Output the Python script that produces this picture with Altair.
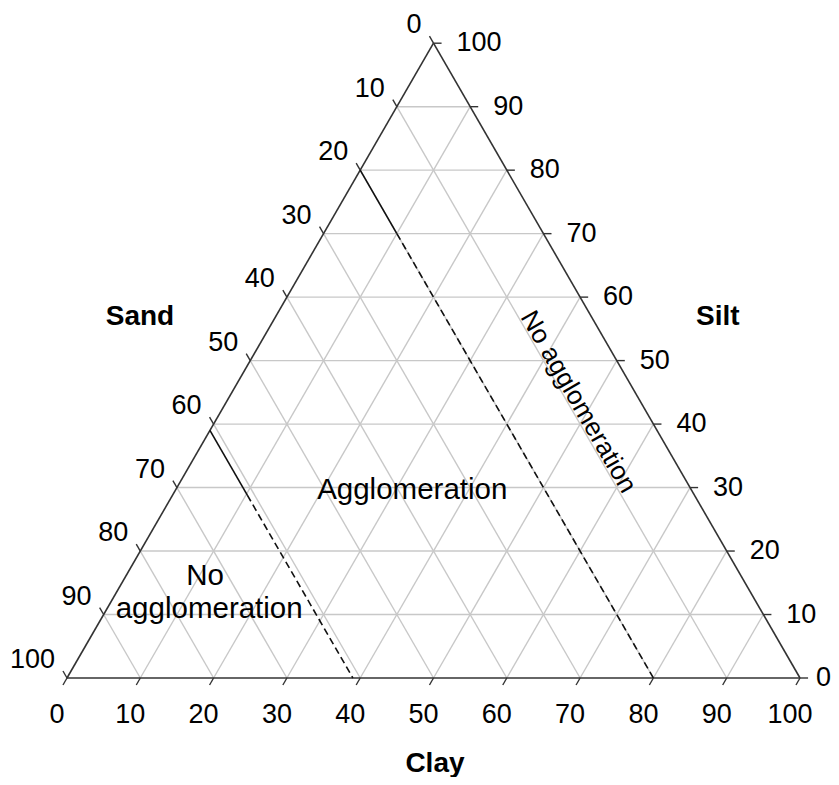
import math
import pandas as pd
import altair as alt

# ---- data (ternary: clay %, silt %, sand % = 100 - clay - silt) ----
tick_values = [0, 10, 20, 30, 40, 50, 60, 70, 80, 90, 100]
grid_values = [10, 20, 30, 40, 50, 60, 70, 80, 90]

# boundary lines: constant sand %, solid part ends at silt %
boundary_sand = [20, 61]
boundary_solid_end_silt = [70, 28.8]

axis_titles = ["Sand", "Silt", "Clay"]
axis_title_clay = [9.96 - 49.25 / math.sqrt(3), 88.8 - 49.25 / math.sqrt(3), 50.2 + 11.8 / math.sqrt(3)]
axis_title_silt = [49.25 * 2 / math.sqrt(3), 49.25 * 2 / math.sqrt(3), -11.8 * 2 / math.sqrt(3)]

region_texts = ["Agglomeration", "No", "agglomeration"]
region_clay = [32.3, 10.85, 14.0]
region_silt = [29.6, 16.0, 10.8]

rot_text = ["No agglomeration"]
rot_clay = [48.0]
rot_silt = [43.5]

S3 = math.sqrt(3) / 2.0


def tx(clay, silt):
    return clay + silt / 2.0


def ty(clay, silt):
    return silt * S3


def seg(c1, s1, c2, s2):
    return {"x": tx(c1, s1), "y": ty(c1, s1), "x2": tx(c2, s2), "y2": ty(c2, s2)}


# grid lines
grid_rows = []
for v in grid_values:
    grid_rows.append(seg(0, v, 100 - v, v))          # constant silt
    grid_rows.append(seg(v, 0, v, 100 - v))          # constant clay
    grid_rows.append(seg(0, 100 - v, 100 - v, 0))    # constant sand
grid_df = pd.DataFrame(grid_rows)

edges_df = pd.DataFrame([seg(0, 0, 100, 0), seg(0, 0, 0, 100), seg(100, 0, 0, 100)])

# tick marks
TL = 1.1
tick_rows = []
for v in tick_values:
    tick_rows.append(seg(v, 0, v, -TL))                       # bottom (clay)
    tick_rows.append(seg(0, 100 - v, -TL, 100 - v + TL))      # left (sand)
    tick_rows.append(seg(100 - v, v, 100 - v + TL, v))        # right (silt)
ticks_df = pd.DataFrame(tick_rows)

# boundaries
solid_rows, dash_rows = [], []
for sand, s_end in zip(boundary_sand, boundary_solid_end_silt):
    top = 100 - sand
    solid_rows.append(seg(0, top, top - s_end, s_end))
    dash_rows.append(seg(top - s_end, s_end, top, 0))
solid_df = pd.DataFrame(solid_rows)
dash_df = pd.DataFrame(dash_rows)

# tick labels
bottom_lab = pd.DataFrame({"x": [tx(v, 0) for v in tick_values], "y": [0.0] * len(tick_values),
                           "t": [str(v) for v in tick_values]})
left_lab = pd.DataFrame({"x": [tx(0, 100 - v) for v in tick_values],
                         "y": [ty(0, 100 - v) for v in tick_values],
                         "t": [str(v) for v in tick_values]})
right_vals = [v for v in tick_values if v > 0]
right_lab = pd.DataFrame({"x": [tx(100 - v, v) for v in right_vals],
                          "y": [ty(100 - v, v) for v in right_vals],
                          "t": [str(v) for v in right_vals]})
right_lab0 = pd.DataFrame({"x": [tx(100, 0)], "y": [ty(100, 0)], "t": ["0"]})

titles_df = pd.DataFrame({"x": [tx(c, s) for c, s in zip(axis_title_clay, axis_title_silt)],
                          "y": [ty(c, s) for c, s in zip(axis_title_clay, axis_title_silt)],
                          "t": axis_titles})
region_df = pd.DataFrame({"x": [tx(c, s) for c, s in zip(region_clay, region_silt)],
                          "y": [ty(c, s) for c, s in zip(region_clay, region_silt)],
                          "t": region_texts})
rot_df = pd.DataFrame({"x": [tx(c, s) for c, s in zip(rot_clay, rot_silt)],
                       "y": [ty(c, s) for c, s in zip(rot_clay, rot_silt)],
                       "t": rot_text})

# ---- layout / scales ----
W, H = 823, 769
PX = 7.33  # pixels per unit
x0 = -59 / PX
y0 = -99 / PX
xs = alt.Scale(domain=[x0, x0 + W / PX], nice=False, zero=False)
ys = alt.Scale(domain=[y0, y0 + H / PX], nice=False, zero=False)

FONT = "Liberation Sans"


def rules(df, **kw):
    return alt.Chart(df).mark_rule(**kw).encode(
        x=alt.X("x:Q", scale=xs, axis=None),
        y=alt.Y("y:Q", scale=ys, axis=None),
        x2="x2:Q", y2="y2:Q")


def texts(df, **kw):
    return alt.Chart(df).mark_text(font=FONT, color="black", **kw).encode(
        x=alt.X("x:Q", scale=xs, axis=None),
        y=alt.Y("y:Q", scale=ys, axis=None),
        text="t:N")


grid = rules(grid_df, color="#c8c8c8", strokeWidth=1.4)
edges = rules(edges_df, color="#333333", strokeWidth=1.6)
ticks = rules(ticks_df, color="#333333", strokeWidth=1.4)
solid = rules(solid_df, color="#111111", strokeWidth=1.6)
dashed = rules(dash_df, color="#111111", strokeWidth=1.6, strokeDash=[7, 4])

TS = 27
lab_b = texts(bottom_lab, fontSize=TS, align="center", baseline="middle", dx=-10, dy=37)
lab_l = texts(left_lab, fontSize=TS, align="right", baseline="middle", dx=-12, dy=-18)
lab_r = texts(right_lab, fontSize=TS, align="left", baseline="middle", dx=23, dy=0)
lab_r0 = texts(right_lab0, fontSize=TS, align="left", baseline="middle", dx=16, dy=0)
tit = texts(titles_df, fontSize=28, fontWeight="bold", align="center", baseline="middle")
reg = texts(region_df, fontSize=29.5, align="center", baseline="middle")
rot = texts(rot_df, fontSize=26, align="center", baseline="middle", angle=60)

chart = alt.layer(grid, edges, ticks, solid, dashed, lab_b, lab_l, lab_r, lab_r0,
                  tit, reg, rot).properties(
    width=W, height=H, autosize=alt.AutoSizeParams(type="none"), padding=0
).configure_view(strokeWidth=0)

chart.save("out.html", embed_options={"renderer": "svg", "actions": False})
